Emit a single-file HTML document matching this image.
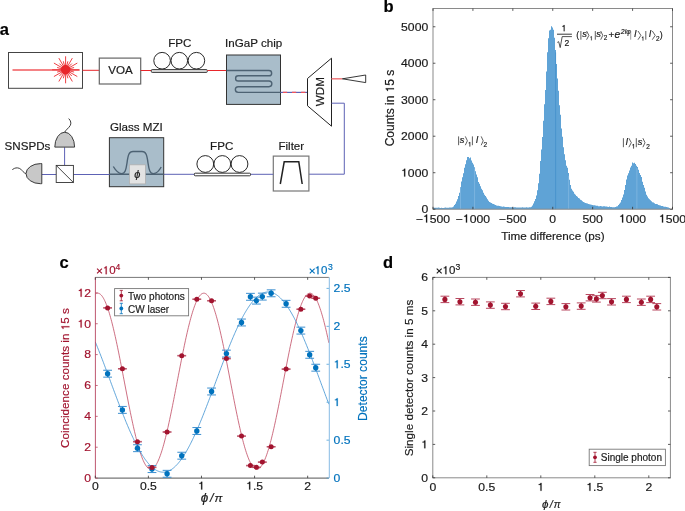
<!DOCTYPE html>
<html><head><meta charset="utf-8"><style>
html,body{margin:0;padding:0;background:#fff;}
svg{display:block;will-change:transform;}
text{font-family:"Liberation Sans",sans-serif;}
</style></head><body>
<svg width="685" height="511" viewBox="0 0 685 511">
<rect width="685" height="511" fill="#fff"/>
<text x="-0.3" y="35" font-size="16.5" font-weight="bold" fill="#000" font-family='"Liberation Sans", sans-serif' stroke="#000" stroke-width="0.18">a</text>
<rect x="8.5" y="52.5" width="74" height="35.8" fill="#fff" stroke="#444" stroke-width="1"/>
<line x1="12.50" y1="70.00" x2="79.70" y2="70.00" stroke="#f0585c" stroke-width="1.3" />
<path d="M65.60,69.80L79.10,69.80M65.60,69.80L77.29,76.55M65.60,69.80L72.35,81.49M65.60,69.80L65.60,83.30M65.60,69.80L58.85,81.49M65.60,69.80L53.91,76.55M65.60,69.80L52.10,69.80M65.60,69.80L53.91,63.05M65.60,69.80L58.85,58.11M65.60,69.80L65.60,56.30M65.60,69.80L72.35,58.11M65.60,69.80L77.29,63.05M65.60,69.80L74.10,72.08M65.60,69.80L71.82,76.02M65.60,69.80L67.88,78.30M65.60,69.80L63.32,78.30M65.60,69.80L59.38,76.02M65.60,69.80L57.10,72.08M65.60,69.80L57.10,67.52M65.60,69.80L59.38,63.58M65.60,69.80L63.32,61.30M65.60,69.80L67.88,61.30M65.60,69.80L71.82,63.58M65.60,69.80L74.10,67.52" stroke="#ec2a30" stroke-width="0.9" fill="none"/>
<circle cx="65.6" cy="69.8" r="4.7" fill="#e8262b"/>
<line x1="82.50" y1="70.30" x2="99.30" y2="70.30" stroke="#e8262b" stroke-width="1" />
<rect x="99.3" y="58.1" width="41.4" height="25.9" fill="#fff" stroke="#666" stroke-width="1.2"/>
<text x="120.50" y="74.10" font-size="11.6" text-anchor="middle" fill="#1a1a1a" font-weight="normal" font-style="normal" font-family='"Liberation Sans", sans-serif'  stroke="#1a1a1a" stroke-width="0.18">VOA</text>
<line x1="140.70" y1="70.50" x2="151.50" y2="70.50" stroke="#e8262b" stroke-width="1" />
<circle cx="162.1" cy="60.7" r="8.3" fill="#fff" stroke="#111" stroke-width="0.9"/>
<circle cx="179.3" cy="60.7" r="8.3" fill="#fff" stroke="#111" stroke-width="0.9"/>
<circle cx="196.4" cy="60.7" r="8.3" fill="#fff" stroke="#111" stroke-width="0.9"/>
<rect x="151.3" y="69.6" width="56" height="2.8" rx="0.9" fill="#e2e2e2" stroke="#222" stroke-width="0.9"/>
<text x="179.80" y="46.80" font-size="11.6" text-anchor="middle" fill="#1a1a1a" font-weight="normal" font-style="normal" font-family='"Liberation Sans", sans-serif'  stroke="#1a1a1a" stroke-width="0.18">FPC</text>
<line x1="207.40" y1="70.50" x2="226.50" y2="70.50" stroke="#e8262b" stroke-width="1" />
<rect x="226.5" y="55" width="54" height="49.4" fill="#a9bdca" stroke="#333" stroke-width="1"/>
<path d="M226.5,70.5 H269 A2.65,2.65 0 0 1 269,75.8 H238.2 A2.6,2.6 0 0 0 238.2,81 H269 A2.85,2.85 0 0 1 269,86.7 H238.2 A2.85,2.85 0 0 0 238.2,92.4 H280.5" fill="none" stroke="#4d6273" stroke-width="1.4"/>
<text x="253.60" y="46.90" font-size="11.6" text-anchor="middle" fill="#1a1a1a" font-weight="normal" font-style="normal" font-family='"Liberation Sans", sans-serif'  stroke="#1a1a1a" stroke-width="0.18">InGaP chip</text>
<line x1="280.50" y1="92.40" x2="307.50" y2="92.40" stroke="#5d62b5" stroke-width="1.2" />
<line x1="280.50" y1="92.40" x2="307.50" y2="92.40" stroke="#f0545a" stroke-width="1.2" stroke-dasharray="4.2 4.9" stroke-dashoffset="6.7"/>
<path d="M307.5,78.5 L331.5,58.2 L331.5,126.2 L307.5,105.8 Z" fill="#fff" stroke="#222" stroke-width="1"/>
<text transform="translate(324.0,91.7) rotate(-90)" x="0" y="0" font-size="11.6" text-anchor="middle" fill="#1a1a1a" font-family='"Liberation Sans", sans-serif' stroke="#1a1a1a" stroke-width="0.18">WDM</text>
<line x1="331.50" y1="78.80" x2="342.40" y2="78.80" stroke="#f0787c" stroke-width="1.5" />
<path d="M342.4,78.8 L365.7,75 L365.7,82.6 Z" fill="#fff" stroke="#222" stroke-width="0.9"/>
<path d="M331.5,103.2 H344.3 V174.2 H308.9" fill="none" stroke="#5d62b5" stroke-width="1"/>
<rect x="273.3" y="156.1" width="35.6" height="34.9" fill="#fff" stroke="#777" stroke-width="1.2"/>
<path d="M280.3,184 L284.2,161.8 L298.8,161.8 L302.2,184" fill="none" stroke="#222" stroke-width="1.5"/>
<text x="291.30" y="150.30" font-size="11.6" text-anchor="middle" fill="#1a1a1a" font-weight="normal" font-style="normal" font-family='"Liberation Sans", sans-serif'  stroke="#1a1a1a" stroke-width="0.18">Filter</text>
<line x1="250.50" y1="174.30" x2="273.30" y2="174.30" stroke="#5d62b5" stroke-width="1" />
<line x1="163.70" y1="174.30" x2="194.30" y2="174.30" stroke="#5d62b5" stroke-width="1" />
<circle cx="205.3" cy="164" r="8.4" fill="#fff" stroke="#111" stroke-width="0.9"/>
<circle cx="222.3" cy="164" r="8.4" fill="#fff" stroke="#111" stroke-width="0.9"/>
<circle cx="239.5" cy="164" r="8.4" fill="#fff" stroke="#111" stroke-width="0.9"/>
<rect x="194.3" y="173.2" width="56.2" height="2.6" rx="0.9" fill="#fff" stroke="#222" stroke-width="0.9"/>
<text x="221.70" y="150.10" font-size="11.6" text-anchor="middle" fill="#1a1a1a" font-weight="normal" font-style="normal" font-family='"Liberation Sans", sans-serif'  stroke="#1a1a1a" stroke-width="0.18">FPC</text>
<rect x="109.4" y="137.7" width="54.3" height="49" fill="#a9bdca" stroke="#333" stroke-width="1"/>
<path d="M109.4,174.2 H163.7" stroke="#4d6273" stroke-width="1.4" fill="none"/>
<path d="M113.3,166.5 C116,171 118,173.5 121.5,173.6 C125,173.6 126,170 127,163 C128,155 129,151.5 133,151.5 H142 C146,151.5 147,155 148,163 C149,170 150,173.6 153.5,173.6 C157,173.5 159,171 161.2,167" stroke="#4d6273" stroke-width="1.4" fill="none"/>
<rect x="129.4" y="164.8" width="16" height="19.1" fill="#e3e3e3" stroke="#b0b0b0" stroke-width="0.8"/>
<text x="137.40" y="178.20" font-size="11" text-anchor="middle" fill="#1a1a1a" font-weight="normal" font-style="italic" font-family='"Liberation Serif", serif'  stroke="#1a1a1a" stroke-width="0.18">&#x3D5;</text>
<text x="136.40" y="131.40" font-size="11.6" text-anchor="middle" fill="#1a1a1a" font-weight="normal" font-style="normal" font-family='"Liberation Sans", sans-serif'  stroke="#1a1a1a" stroke-width="0.18">Glass MZI</text>
<line x1="73.40" y1="174.50" x2="109.40" y2="174.50" stroke="#5d62b5" stroke-width="1" />
<line x1="41.80" y1="174.50" x2="56.20" y2="174.50" stroke="#5d62b5" stroke-width="1" />
<line x1="64.60" y1="147.30" x2="64.60" y2="165.40" stroke="#5d62b5" stroke-width="1" />
<rect x="56.2" y="165.4" width="17.2" height="17.1" fill="#fff" stroke="#333" stroke-width="0.9"/>
<line x1="56.20" y1="165.40" x2="73.40" y2="182.50" stroke="#333" stroke-width="0.9" />
<path d="M54.8,147.1 A9.9,14.9 0 0 1 74.6,147.1 Z" fill="#c8c8c8" stroke="#333" stroke-width="0.95"/>
<path d="M64.7,132.3 C65.6,130 68.6,128.2 70.2,125.6 C71.4,123.4 70.9,120.6 68.7,118.6" fill="none" stroke="#333" stroke-width="0.95"/>
<path d="M41.8,163.6 L40.5,163.6 A14.5,10.05 0 0 0 40.5,183.7 L41.8,183.7 Z" fill="#c8c8c8" stroke="#333" stroke-width="0.95"/>
<path d="M26,173.6 C23.6,172.9 22.4,170.6 20.8,169.2 C19,167.7 16.3,167.5 14.4,168.4 L12.3,169.6" fill="none" stroke="#333" stroke-width="0.95"/>
<text x="4.60" y="149.90" font-size="11.6" text-anchor="start" fill="#1a1a1a" font-weight="normal" font-style="normal" font-family='"Liberation Sans", sans-serif'  stroke="#1a1a1a" stroke-width="0.18">SNSPDs</text>
<path d="M433.00,209.20V207.79H434.00V207.65H435.00V207.74H436.00V207.74H437.00V207.76H438.00V207.61H439.00V207.71H440.00V207.92H441.00V207.79H442.00V207.93H443.00V208.04H444.00V207.74H445.00V207.54H446.00V207.69H447.00V207.80H448.00V207.76H449.00V207.56H450.00V207.61H451.00V207.62H452.00V207.36H453.00V206.48H454.00V205.09H455.00V203.68H456.00V201.53H457.00V199.26H458.00V195.99H459.00V192.84H460.00V187.14H461.00V181.52H462.00V177.17H463.00V173.28H464.00V167.87H465.00V164.21H466.00V160.14H467.00V157.10H468.00V156.96H469.00V158.36H470.00V157.41H471.00V160.43H472.00V162.65H473.00V164.53H474.00V167.27H475.00V171.28H476.00V174.50H477.00V177.33H478.00V181.91H479.00V183.71H480.00V186.23H481.00V188.87H482.00V190.23H483.00V192.77H484.00V194.65H485.00V196.04H486.00V197.62H487.00V199.37H488.00V200.69H489.00V201.92H490.00V202.54H491.00V203.05H492.00V203.73H493.00V203.99H494.00V204.56H495.00V204.94H496.00V205.41H497.00V205.67H498.00V205.69H499.00V205.96H500.00V206.15H501.00V206.44H502.00V206.63H503.00V206.59H504.00V206.70H505.00V206.90H506.00V206.98H507.00V207.04H508.00V207.12H509.00V207.37H510.00V207.25H511.00V207.34H512.00V207.12H513.00V207.39H514.00V207.26H515.00V207.17H516.00V207.41H517.00V207.47H518.00V207.43H519.00V207.45H520.00V207.59H521.00V207.41H522.00V207.28H523.00V207.53H524.00V207.49H525.00V207.58H526.00V207.37H527.00V207.54H528.00V207.49H529.00V207.17H530.00V207.21H531.00V206.66H532.00V205.40H533.00V203.59H534.00V201.15H535.00V199.04H536.00V195.51H537.00V190.26H538.00V183.33H539.00V173.67H540.00V160.93H541.00V149.56H542.00V137.04H543.00V120.81H544.00V104.31H545.00V89.97H546.00V71.47H547.00V52.23H548.00V38.23H549.00V30.51H550.00V29.65H551.00V26.20H552.00V27.59H553.00V29.66H554.00V37.74H555.00V49.95H556.00V63.98H557.00V78.61H558.00V90.76H559.00V105.19H560.00V114.69H561.00V128.45H562.00V136.86H563.00V147.33H564.00V154.13H565.00V160.19H566.00V165.72H567.00V167.77H568.00V173.03H569.00V179.68H570.00V185.04H571.00V188.67H572.00V190.61H573.00V191.73H574.00V193.77H575.00V194.72H576.00V196.12H577.00V196.85H578.00V197.90H579.00V198.39H580.00V199.69H581.00V200.26H582.00V201.21H583.00V202.01H584.00V202.49H585.00V203.01H586.00V203.34H587.00V203.48H588.00V203.91H589.00V204.25H590.00V204.41H591.00V204.78H592.00V205.05H593.00V205.18H594.00V205.27H595.00V205.49H596.00V205.67H597.00V205.86H598.00V206.18H599.00V206.27H600.00V206.04H601.00V206.19H602.00V206.51H603.00V206.26H604.00V206.36H605.00V206.38H606.00V206.62H607.00V206.71H608.00V206.92H609.00V206.55H610.00V207.03H611.00V206.92H612.00V207.28H613.00V207.28H614.00V207.30H615.00V206.92H616.00V206.58H617.00V206.18H618.00V205.04H619.00V203.86H620.00V202.49H621.00V200.10H622.00V197.52H623.00V194.49H624.00V189.90H625.00V185.00H626.00V179.46H627.00V175.51H628.00V173.14H629.00V170.54H630.00V167.56H631.00V165.68H632.00V162.40H633.00V163.13H634.00V162.75H635.00V163.95H636.00V165.78H637.00V167.11H638.00V169.67H639.00V172.96H640.00V175.11H641.00V176.90H642.00V181.66H643.00V184.90H644.00V187.65H645.00V191.57H646.00V194.67H647.00V196.51H648.00V198.24H649.00V199.22H650.00V200.33H651.00V201.19H652.00V202.21H653.00V202.49H654.00V203.31H655.00V203.93H656.00V204.01H657.00V204.34H658.00V204.98H659.00V205.36H660.00V205.62H661.00V205.99H662.00V206.10H663.00V206.44H664.00V206.70H665.00V206.74H666.00V207.11H667.00V207.16H668.00V207.62H669.00V208.07H670.00V209.20H671.00V208.96H672.00V209.20H673.00V209.20Z" fill="#5fa3d6" stroke="none"/>
<line x1="460.54" y1="187.84" x2="460.54" y2="209.20" stroke="#8fc0e6" stroke-width="0.6" />
<line x1="474.59" y1="168.44" x2="474.59" y2="209.20" stroke="#8fc0e6" stroke-width="0.6" />
<line x1="555.62" y1="52.42" x2="555.62" y2="209.20" stroke="#3a88c8" stroke-width="0.6" />
<line x1="568.64" y1="175.84" x2="568.64" y2="209.20" stroke="#8fc0e6" stroke-width="0.6" />
<line x1="636.89" y1="168.14" x2="636.89" y2="209.20" stroke="#8fc0e6" stroke-width="0.6" />
<rect x="433.0" y="8.5" width="239.5" height="200.7" fill="none" stroke="#8a8a8a" stroke-width="1"/>
<line x1="433.00" y1="209.20" x2="433.00" y2="206.80" stroke="#333" stroke-width="0.8" />
<line x1="433.00" y1="8.50" x2="433.00" y2="10.90" stroke="#333" stroke-width="0.8" />
<g transform="translate(433.00,222.50) scale(1.06,1)"><text x="-16.149" y="0" font-size="11.5" text-anchor="start" fill="#1a1a1a" font-family='"Liberation Sans", sans-serif' stroke="#1a1a1a" stroke-width="0.18">&#x2212;&#x2007;500</text><path transform="translate(-9.434,0) scale(0.005615,-0.005615)" d="M505,0L505,1040L215,1040L215,1170C390,1180 490,1250 520,1409L700,1409L700,0Z" fill="#1a1a1a" stroke="#1a1a1a" stroke-width="32.1"/></g>
<line x1="472.92" y1="209.20" x2="472.92" y2="206.80" stroke="#333" stroke-width="0.8" />
<line x1="472.92" y1="8.50" x2="472.92" y2="10.90" stroke="#333" stroke-width="0.8" />
<g transform="translate(472.92,222.50) scale(1.06,1)"><text x="-16.149" y="0" font-size="11.5" text-anchor="start" fill="#1a1a1a" font-family='"Liberation Sans", sans-serif' stroke="#1a1a1a" stroke-width="0.18">&#x2212;&#x2007;000</text><path transform="translate(-9.434,0) scale(0.005615,-0.005615)" d="M505,0L505,1040L215,1040L215,1170C390,1180 490,1250 520,1409L700,1409L700,0Z" fill="#1a1a1a" stroke="#1a1a1a" stroke-width="32.1"/></g>
<line x1="512.83" y1="209.20" x2="512.83" y2="206.80" stroke="#333" stroke-width="0.8" />
<line x1="512.83" y1="8.50" x2="512.83" y2="10.90" stroke="#333" stroke-width="0.8" />
<text transform="translate(512.83,222.50) scale(1.06,1)" x="0" y="0" font-size="11.5" text-anchor="middle" fill="#1a1a1a" font-family='"Liberation Sans", sans-serif' stroke="#1a1a1a" stroke-width="0.18">&#x2212;500</text>
<line x1="552.75" y1="209.20" x2="552.75" y2="206.80" stroke="#333" stroke-width="0.8" />
<line x1="552.75" y1="8.50" x2="552.75" y2="10.90" stroke="#333" stroke-width="0.8" />
<text transform="translate(552.75,222.50) scale(1.06,1)" x="0" y="0" font-size="11.5" text-anchor="middle" fill="#1a1a1a" font-family='"Liberation Sans", sans-serif' stroke="#1a1a1a" stroke-width="0.18">0</text>
<line x1="592.67" y1="209.20" x2="592.67" y2="206.80" stroke="#333" stroke-width="0.8" />
<line x1="592.67" y1="8.50" x2="592.67" y2="10.90" stroke="#333" stroke-width="0.8" />
<text transform="translate(592.67,222.50) scale(1.06,1)" x="0" y="0" font-size="11.5" text-anchor="middle" fill="#1a1a1a" font-family='"Liberation Sans", sans-serif' stroke="#1a1a1a" stroke-width="0.18">500</text>
<line x1="632.58" y1="209.20" x2="632.58" y2="206.80" stroke="#333" stroke-width="0.8" />
<line x1="632.58" y1="8.50" x2="632.58" y2="10.90" stroke="#333" stroke-width="0.8" />
<g transform="translate(632.58,222.50) scale(1.06,1)"><text x="-12.792" y="0" font-size="11.5" text-anchor="start" fill="#1a1a1a" font-family='"Liberation Sans", sans-serif' stroke="#1a1a1a" stroke-width="0.18">&#x2007;000</text><path transform="translate(-12.792,0) scale(0.005615,-0.005615)" d="M505,0L505,1040L215,1040L215,1170C390,1180 490,1250 520,1409L700,1409L700,0Z" fill="#1a1a1a" stroke="#1a1a1a" stroke-width="32.1"/></g>
<line x1="672.50" y1="209.20" x2="672.50" y2="206.80" stroke="#333" stroke-width="0.8" />
<line x1="672.50" y1="8.50" x2="672.50" y2="10.90" stroke="#333" stroke-width="0.8" />
<g transform="translate(672.50,222.50) scale(1.06,1)"><text x="-12.792" y="0" font-size="11.5" text-anchor="start" fill="#1a1a1a" font-family='"Liberation Sans", sans-serif' stroke="#1a1a1a" stroke-width="0.18">&#x2007;500</text><path transform="translate(-12.792,0) scale(0.005615,-0.005615)" d="M505,0L505,1040L215,1040L215,1170C390,1180 490,1250 520,1409L700,1409L700,0Z" fill="#1a1a1a" stroke="#1a1a1a" stroke-width="32.1"/></g>
<line x1="433.00" y1="209.20" x2="435.40" y2="209.20" stroke="#333" stroke-width="0.8" />
<line x1="672.50" y1="209.20" x2="670.10" y2="209.20" stroke="#333" stroke-width="0.8" />
<text transform="translate(428.20,213.10) scale(1.06,1)" x="0" y="0" font-size="11.5" text-anchor="end" fill="#1a1a1a" font-family='"Liberation Sans", sans-serif' stroke="#1a1a1a" stroke-width="0.18">0</text>
<line x1="433.00" y1="172.71" x2="435.40" y2="172.71" stroke="#333" stroke-width="0.8" />
<line x1="672.50" y1="172.71" x2="670.10" y2="172.71" stroke="#333" stroke-width="0.8" />
<g transform="translate(428.20,176.61) scale(1.06,1)"><text x="-25.583" y="0" font-size="11.5" text-anchor="start" fill="#1a1a1a" font-family='"Liberation Sans", sans-serif' stroke="#1a1a1a" stroke-width="0.18">&#x2007;000</text><path transform="translate(-25.583,0) scale(0.005615,-0.005615)" d="M505,0L505,1040L215,1040L215,1170C390,1180 490,1250 520,1409L700,1409L700,0Z" fill="#1a1a1a" stroke="#1a1a1a" stroke-width="32.1"/></g>
<line x1="433.00" y1="136.22" x2="435.40" y2="136.22" stroke="#333" stroke-width="0.8" />
<line x1="672.50" y1="136.22" x2="670.10" y2="136.22" stroke="#333" stroke-width="0.8" />
<text transform="translate(428.20,140.12) scale(1.06,1)" x="0" y="0" font-size="11.5" text-anchor="end" fill="#1a1a1a" font-family='"Liberation Sans", sans-serif' stroke="#1a1a1a" stroke-width="0.18">2000</text>
<line x1="433.00" y1="99.73" x2="435.40" y2="99.73" stroke="#333" stroke-width="0.8" />
<line x1="672.50" y1="99.73" x2="670.10" y2="99.73" stroke="#333" stroke-width="0.8" />
<text transform="translate(428.20,103.63) scale(1.06,1)" x="0" y="0" font-size="11.5" text-anchor="end" fill="#1a1a1a" font-family='"Liberation Sans", sans-serif' stroke="#1a1a1a" stroke-width="0.18">3000</text>
<line x1="433.00" y1="63.24" x2="435.40" y2="63.24" stroke="#333" stroke-width="0.8" />
<line x1="672.50" y1="63.24" x2="670.10" y2="63.24" stroke="#333" stroke-width="0.8" />
<text transform="translate(428.20,67.14) scale(1.06,1)" x="0" y="0" font-size="11.5" text-anchor="end" fill="#1a1a1a" font-family='"Liberation Sans", sans-serif' stroke="#1a1a1a" stroke-width="0.18">4000</text>
<line x1="433.00" y1="26.75" x2="435.40" y2="26.75" stroke="#333" stroke-width="0.8" />
<line x1="672.50" y1="26.75" x2="670.10" y2="26.75" stroke="#333" stroke-width="0.8" />
<text transform="translate(428.20,30.65) scale(1.06,1)" x="0" y="0" font-size="11.5" text-anchor="end" fill="#1a1a1a" font-family='"Liberation Sans", sans-serif' stroke="#1a1a1a" stroke-width="0.18">5000</text>
<text x="552.90" y="240.30" font-size="11.7" text-anchor="middle" fill="#1a1a1a" font-weight="normal" font-style="normal" font-family='"Liberation Sans", sans-serif'  stroke="#1a1a1a" stroke-width="0.18">Time difference (ps)</text>
<g transform="translate(394.00,108.00) rotate(-90)"><text x="-38.355" y="0" font-size="12" style="font-kerning:none" fill="#1a1a1a" font-family='"Liberation Sans", sans-serif' stroke="#1a1a1a" stroke-width="0.18">Counts in  5 s</text><path transform="translate(15.674,0) scale(0.005859,-0.005859)" d="M505,0L505,1040L215,1040L215,1170C390,1180 490,1250 520,1409L700,1409L700,0Z" fill="#1a1a1a" stroke="#1a1a1a" stroke-width="30.7"/></g>
<text x="383.6" y="11.7" font-size="16.5" font-weight="bold" fill="#000" font-family='"Liberation Sans", sans-serif' stroke="#000" stroke-width="0.18">b</text>
<line x1="458.60" y1="136.40" x2="458.60" y2="145.20" stroke="#1a1a1a" stroke-width="0.7"/>
<text x="462.00" y="143.10" font-size="9.3" font-style="italic" text-anchor="middle" fill="#1a1a1a" font-family='"Liberation Sans", sans-serif' stroke="#1a1a1a" stroke-width="0.18">s</text>
<path d="M465.30,136.40 L467.40,140.80 L465.30,145.20" fill="none" stroke="#1a1a1a" stroke-width="0.7"/>
<path transform="translate(468.020,146.40) scale(0.003125,-0.003125)" d="M505,0L505,1040L215,1040L215,1170C390,1180 490,1250 520,1409L700,1409L700,0Z" fill="#1a1a1a" stroke="#1a1a1a" stroke-width="57.6"/>
<line x1="472.40" y1="136.40" x2="472.40" y2="145.20" stroke="#1a1a1a" stroke-width="0.7"/>
<text x="477.00" y="143.10" font-size="9.3" font-style="italic" text-anchor="middle" fill="#1a1a1a" font-family='"Liberation Sans", sans-serif' stroke="#1a1a1a" stroke-width="0.18">l</text>
<path d="M481.20,136.40 L483.20,140.80 L481.20,145.20" fill="none" stroke="#1a1a1a" stroke-width="0.7"/>
<text x="485.40" y="146.50" font-size="6.4" font-style="normal" text-anchor="middle" fill="#1a1a1a" font-family='"Liberation Sans", sans-serif' stroke="#1a1a1a" stroke-width="0.18">2</text>
<line x1="623.40" y1="138.20" x2="623.40" y2="147.20" stroke="#1a1a1a" stroke-width="0.7"/>
<text x="626.90" y="145.00" font-size="9.3" font-style="italic" text-anchor="middle" fill="#1a1a1a" font-family='"Liberation Sans", sans-serif' stroke="#1a1a1a" stroke-width="0.18">l</text>
<path d="M628.90,138.20 L631.30,142.70 L628.90,147.20" fill="none" stroke="#1a1a1a" stroke-width="0.7"/>
<path transform="translate(631.720,148.50) scale(0.003125,-0.003125)" d="M505,0L505,1040L215,1040L215,1170C390,1180 490,1250 520,1409L700,1409L700,0Z" fill="#1a1a1a" stroke="#1a1a1a" stroke-width="57.6"/>
<line x1="636.30" y1="138.20" x2="636.30" y2="147.20" stroke="#1a1a1a" stroke-width="0.7"/>
<text x="640.10" y="145.00" font-size="9.3" font-style="italic" text-anchor="middle" fill="#1a1a1a" font-family='"Liberation Sans", sans-serif' stroke="#1a1a1a" stroke-width="0.18">s</text>
<path d="M642.90,138.20 L645.00,142.70 L642.90,147.20" fill="none" stroke="#1a1a1a" stroke-width="0.7"/>
<text x="648.00" y="148.80" font-size="6.4" font-style="normal" text-anchor="middle" fill="#1a1a1a" font-family='"Liberation Sans", sans-serif' stroke="#1a1a1a" stroke-width="0.18">2</text>
<path transform="translate(561.497,31.20) scale(0.004395,-0.004395)" d="M505,0L505,1040L215,1040L215,1170C390,1180 490,1250 520,1409L700,1409L700,0Z" fill="#1a1a1a" stroke="#1a1a1a" stroke-width="41.0"/>
<line x1="557.00" y1="34.20" x2="571.90" y2="34.20" stroke="#222" stroke-width="0.9" />
<path d="M557.3,42.4 L558.7,41.7 L560.2,47.6 L562.2,36.6 H571.9" fill="none" stroke="#1a1a1a" stroke-width="0.75"/>
<text x="566.80" y="46.30" font-size="8.6" text-anchor="middle" fill="#1a1a1a" font-weight="normal" font-style="normal" font-family='"Liberation Sans", sans-serif'  stroke="#1a1a1a" stroke-width="0.18">2</text>
<text x="577.70" y="38.30" font-size="8.8" font-style="normal" text-anchor="middle" fill="#1a1a1a" font-family='"Liberation Sans", sans-serif' stroke="#1a1a1a" stroke-width="0.18">(</text>
<line x1="580.90" y1="31.00" x2="580.90" y2="39.70" stroke="#1a1a1a" stroke-width="0.7"/>
<text x="584.50" y="37.30" font-size="9.3" font-style="italic" text-anchor="middle" fill="#1a1a1a" font-family='"Liberation Sans", sans-serif' stroke="#1a1a1a" stroke-width="0.18">s</text>
<path d="M586.60,31.00 L588.90,35.35 L586.60,39.70" fill="none" stroke="#1a1a1a" stroke-width="0.7"/>
<path transform="translate(589.687,40.30) scale(0.002832,-0.002832)" d="M505,0L505,1040L215,1040L215,1170C390,1180 490,1250 520,1409L700,1409L700,0Z" fill="#1a1a1a" stroke="#1a1a1a" stroke-width="63.6"/>
<line x1="595.30" y1="31.00" x2="595.30" y2="39.70" stroke="#1a1a1a" stroke-width="0.7"/>
<text x="598.60" y="37.30" font-size="9.3" font-style="italic" text-anchor="middle" fill="#1a1a1a" font-family='"Liberation Sans", sans-serif' stroke="#1a1a1a" stroke-width="0.18">s</text>
<path d="M600.70,31.00 L602.80,35.35 L600.70,39.70" fill="none" stroke="#1a1a1a" stroke-width="0.7"/>
<text x="605.50" y="40.30" font-size="6.4" font-style="normal" text-anchor="middle" fill="#1a1a1a" font-family='"Liberation Sans", sans-serif' stroke="#1a1a1a" stroke-width="0.18">2</text>
<text x="611.30" y="37.90" font-size="9.8" font-style="normal" text-anchor="middle" fill="#1a1a1a" font-family='"Liberation Sans", sans-serif' stroke="#1a1a1a" stroke-width="0.18">+</text>
<text x="617.30" y="37.90" font-size="10.2" font-style="italic" text-anchor="middle" fill="#1a1a1a" font-family='"Liberation Sans", sans-serif' stroke="#1a1a1a" stroke-width="0.18">e</text>
<text x="625.80" y="34.00" font-size="6.9" font-style="italic" text-anchor="middle" fill="#1a1a1a" font-family='"Liberation Sans", sans-serif' stroke="#1a1a1a" stroke-width="0.18">2i&#x3C6;</text>
<line x1="630.70" y1="31.00" x2="630.70" y2="39.70" stroke="#777" stroke-width="0.7"/>
<text x="635.40" y="37.30" font-size="9.3" font-style="italic" text-anchor="middle" fill="#1a1a1a" font-family='"Liberation Sans", sans-serif' stroke="#1a1a1a" stroke-width="0.18">l</text>
<path d="M638.00,31.00 L640.90,35.35 L638.00,39.70" fill="none" stroke="#1a1a1a" stroke-width="0.7"/>
<path transform="translate(641.287,40.60) scale(0.002832,-0.002832)" d="M505,0L505,1040L215,1040L215,1170C390,1180 490,1250 520,1409L700,1409L700,0Z" fill="#1a1a1a" stroke="#1a1a1a" stroke-width="63.6"/>
<line x1="645.80" y1="31.00" x2="645.80" y2="39.70" stroke="#1a1a1a" stroke-width="0.7"/>
<text x="650.10" y="37.30" font-size="9.3" font-style="italic" text-anchor="middle" fill="#1a1a1a" font-family='"Liberation Sans", sans-serif' stroke="#1a1a1a" stroke-width="0.18">l</text>
<path d="M652.30,31.00 L655.20,35.35 L652.30,39.70" fill="none" stroke="#1a1a1a" stroke-width="0.7"/>
<text x="657.80" y="40.60" font-size="6.4" font-style="normal" text-anchor="middle" fill="#1a1a1a" font-family='"Liberation Sans", sans-serif' stroke="#1a1a1a" stroke-width="0.18">2</text>
<text x="661.30" y="38.30" font-size="8.8" font-style="normal" text-anchor="middle" fill="#1a1a1a" font-family='"Liberation Sans", sans-serif' stroke="#1a1a1a" stroke-width="0.18">)</text>
<clipPath id="cclip"><rect x="95.3" y="277.4" width="233.59999999999997" height="200.70000000000005"/></clipPath>
<g clip-path="url(#cclip)"><path d="M95.30,294.07 L95.89,293.69 L96.47,293.41 L97.06,293.25 L97.64,293.18 L98.23,293.22 L98.81,293.37 L99.40,293.62 L99.98,293.98 L100.57,294.44 L101.15,295.01 L101.74,295.68 L102.33,296.45 L102.91,297.33 L103.50,298.30 L104.08,299.38 L104.67,300.55 L105.25,301.82 L105.84,303.19 L106.42,304.65 L107.01,306.20 L107.59,307.84 L108.18,309.57 L108.77,311.38 L109.35,313.28 L109.94,315.26 L110.52,317.32 L111.11,319.46 L111.69,321.67 L112.28,323.95 L112.86,326.30 L113.45,328.72 L114.03,331.20 L114.62,333.74 L115.21,336.33 L115.79,338.98 L116.38,341.68 L116.96,344.43 L117.55,347.22 L118.13,350.06 L118.72,352.93 L119.30,355.83 L119.89,358.77 L120.47,361.73 L121.06,364.71 L121.65,367.72 L122.23,370.74 L122.82,373.77 L123.40,376.81 L123.99,379.86 L124.57,382.91 L125.16,385.96 L125.74,389.00 L126.33,392.03 L126.92,395.05 L127.50,398.05 L128.09,401.03 L128.67,403.99 L129.26,406.92 L129.84,409.82 L130.43,412.69 L131.01,415.51 L131.60,418.30 L132.18,421.04 L132.77,423.73 L133.36,426.37 L133.94,428.96 L134.53,431.49 L135.11,433.96 L135.70,436.37 L136.28,438.71 L136.87,440.98 L137.45,443.18 L138.04,445.30 L138.62,447.35 L139.21,449.32 L139.80,451.20 L140.38,453.01 L140.97,454.72 L141.55,456.35 L142.14,457.89 L142.72,459.33 L143.31,460.68 L143.89,461.94 L144.48,463.09 L145.06,464.15 L145.65,465.11 L146.24,465.97 L146.82,466.73 L147.41,467.39 L147.99,467.94 L148.58,468.38 L149.16,468.72 L149.75,468.96 L150.33,469.09 L150.92,469.12 L151.50,469.04 L152.09,468.85 L152.68,468.56 L153.26,468.16 L153.85,467.66 L154.43,467.06 L155.02,466.35 L155.60,465.54 L156.19,464.63 L156.77,463.62 L157.36,462.51 L157.94,461.30 L158.53,459.99 L159.12,458.59 L159.70,457.10 L160.29,455.52 L160.87,453.84 L161.46,452.08 L162.04,450.24 L162.63,448.31 L163.21,446.30 L163.80,444.21 L164.38,442.05 L164.97,439.81 L165.56,437.50 L166.14,435.13 L166.73,432.69 L167.31,430.19 L167.90,427.63 L168.48,425.01 L169.07,422.34 L169.65,419.62 L170.24,416.86 L170.82,414.05 L171.41,411.21 L172.00,408.32 L172.58,405.41 L173.17,402.46 L173.75,399.49 L174.34,396.50 L174.92,393.49 L175.51,390.46 L176.09,387.42 L176.68,384.38 L177.26,381.33 L177.85,378.28 L178.44,375.24 L179.02,372.20 L179.61,369.17 L180.19,366.16 L180.78,363.16 L181.36,360.19 L181.95,357.24 L182.53,354.32 L183.12,351.44 L183.71,348.58 L184.29,345.77 L184.88,343.00 L185.46,340.28 L186.05,337.60 L186.63,334.98 L187.22,332.41 L187.80,329.90 L188.39,327.46 L188.97,325.07 L189.56,322.76 L190.15,320.51 L190.73,318.34 L191.32,316.25 L191.90,314.23 L192.49,312.29 L193.07,310.43 L193.66,308.66 L194.24,306.98 L194.83,305.38 L195.41,303.88 L196.00,302.47 L196.59,301.15 L197.17,299.93 L197.76,298.81 L198.34,297.79 L198.93,296.86 L199.51,296.04 L200.10,295.32 L200.68,294.70 L201.27,294.19 L201.85,293.78 L202.44,293.48 L203.03,293.28 L203.61,293.19 L204.20,293.20 L204.78,293.32 L205.37,293.54 L205.95,293.87 L206.54,294.31 L207.12,294.85 L207.71,295.49 L208.29,296.23 L208.88,297.08 L209.47,298.03 L210.05,299.08 L210.64,300.22 L211.22,301.47 L211.81,302.81 L212.39,304.24 L212.98,305.77 L213.56,307.38 L214.15,309.09 L214.73,310.88 L215.32,312.76 L215.91,314.71 L216.49,316.75 L217.08,318.87 L217.66,321.06 L218.25,323.32 L218.83,325.65 L219.42,328.05 L220.00,330.51 L220.59,333.04 L221.17,335.62 L221.76,338.25 L222.35,340.94 L222.93,343.68 L223.52,346.46 L224.10,349.28 L224.69,352.14 L225.27,355.04 L225.86,357.96 L226.44,360.92 L227.03,363.90 L227.61,366.90 L228.20,369.91 L228.79,372.94 L229.37,375.98 L229.96,379.03 L230.54,382.08 L231.13,385.13 L231.71,388.17 L232.30,391.20 L232.88,394.23 L233.47,397.23 L234.05,400.22 L234.64,403.19 L235.23,406.12 L235.81,409.03 L236.40,411.91 L236.98,414.74 L237.57,417.54 L238.15,420.30 L238.74,423.00 L239.32,425.66 L239.91,428.26 L240.49,430.81 L241.08,433.29 L241.67,435.72 L242.25,438.08 L242.84,440.37 L243.42,442.59 L244.01,444.73 L244.59,446.80 L245.18,448.79 L245.76,450.70 L246.35,452.52 L246.94,454.26 L247.52,455.91 L248.11,457.48 L248.69,458.95 L249.28,460.32 L249.86,461.60 L250.45,462.79 L251.03,463.87 L251.62,464.86 L252.20,465.75 L252.79,466.53 L253.38,467.22 L253.96,467.80 L254.55,468.27 L255.13,468.64 L255.72,468.91 L256.30,469.07 L256.89,469.12 L257.47,469.07 L258.06,468.91 L258.64,468.65 L259.23,468.28 L259.82,467.81 L260.40,467.23 L260.99,466.55 L261.57,465.77 L262.16,464.89 L262.74,463.90 L263.33,462.82 L263.91,461.64 L264.50,460.36 L265.08,458.99 L265.67,457.52 L266.26,455.96 L266.84,454.31 L267.43,452.57 L268.01,450.75 L268.60,448.84 L269.18,446.86 L269.77,444.79 L270.35,442.65 L270.94,440.43 L271.52,438.14 L272.11,435.78 L272.70,433.36 L273.28,430.88 L273.87,428.33 L274.45,425.73 L275.04,423.08 L275.62,420.37 L276.21,417.62 L276.79,414.82 L277.38,411.99 L277.96,409.11 L278.55,406.21 L279.14,403.27 L279.72,400.30 L280.31,397.32 L280.89,394.31 L281.48,391.29 L282.06,388.25 L282.65,385.21 L283.23,382.16 L283.82,379.11 L284.40,376.07 L284.99,373.03 L285.58,370.00 L286.16,366.98 L286.75,363.98 L287.33,361.00 L287.92,358.04 L288.50,355.12 L289.09,352.22 L289.67,349.36 L290.26,346.54 L290.84,343.75 L291.43,341.02 L292.02,338.33 L292.60,335.69 L293.19,333.11 L293.77,330.58 L294.36,328.12 L294.94,325.72 L295.53,323.38 L296.11,321.12 L296.70,318.93 L297.28,316.81 L297.87,314.77 L298.46,312.81 L299.04,310.93 L299.63,309.14 L300.21,307.43 L300.80,305.81 L301.38,304.28 L301.97,302.85 L302.55,301.50 L303.14,300.26 L303.73,299.11 L304.31,298.06 L304.90,297.11 L305.48,296.26 L306.07,295.51 L306.65,294.86 L307.24,294.32 L307.82,293.88 L308.41,293.55 L308.99,293.32 L309.58,293.20 L310.17,293.19 L310.75,293.28 L311.34,293.47 L311.92,293.77 L312.51,294.18 L313.09,294.69 L313.68,295.30 L314.26,296.02 L314.85,296.84 L315.43,297.76 L316.02,298.78 L316.61,299.90 L317.19,301.12 L317.78,302.43 L318.36,303.84 L318.95,305.34 L319.53,306.93 L320.12,308.61 L320.70,310.38 L321.29,312.24 L321.87,314.17 L322.46,316.19 L323.05,318.28 L323.63,320.45 L324.22,322.70 L324.80,325.01 L325.39,327.39 L325.97,329.84 L326.56,332.34 L327.14,334.91 L327.73,337.53 L328.31,340.20 L328.90,342.93" fill="none" stroke="#c04a62" stroke-width="0.8"/><path d="M95.30,341.90 L95.89,343.32 L96.47,344.75 L97.06,346.19 L97.64,347.65 L98.23,349.11 L98.81,350.59 L99.40,352.07 L99.98,353.56 L100.57,355.07 L101.15,356.58 L101.74,358.10 L102.33,359.62 L102.91,361.16 L103.50,362.69 L104.08,364.24 L104.67,365.79 L105.25,367.35 L105.84,368.91 L106.42,370.47 L107.01,372.04 L107.59,373.61 L108.18,375.18 L108.77,376.76 L109.35,378.34 L109.94,379.91 L110.52,381.49 L111.11,383.07 L111.69,384.65 L112.28,386.23 L112.86,387.81 L113.45,389.38 L114.03,390.95 L114.62,392.52 L115.21,394.09 L115.79,395.65 L116.38,397.21 L116.96,398.77 L117.55,400.32 L118.13,401.86 L118.72,403.40 L119.30,404.93 L119.89,406.45 L120.47,407.97 L121.06,409.48 L121.65,410.98 L122.23,412.47 L122.82,413.95 L123.40,415.43 L123.99,416.89 L124.57,418.34 L125.16,419.78 L125.74,421.21 L126.33,422.63 L126.92,424.03 L127.50,425.42 L128.09,426.80 L128.67,428.16 L129.26,429.51 L129.84,430.85 L130.43,432.17 L131.01,433.47 L131.60,434.76 L132.18,436.04 L132.77,437.29 L133.36,438.53 L133.94,439.76 L134.53,440.96 L135.11,442.15 L135.70,443.32 L136.28,444.46 L136.87,445.59 L137.45,446.71 L138.04,447.80 L138.62,448.87 L139.21,449.92 L139.80,450.95 L140.38,451.95 L140.97,452.94 L141.55,453.91 L142.14,454.85 L142.72,455.77 L143.31,456.67 L143.89,457.54 L144.48,458.39 L145.06,459.22 L145.65,460.03 L146.24,460.81 L146.82,461.56 L147.41,462.30 L147.99,463.00 L148.58,463.69 L149.16,464.34 L149.75,464.97 L150.33,465.58 L150.92,466.16 L151.50,466.72 L152.09,467.25 L152.68,467.75 L153.26,468.23 L153.85,468.68 L154.43,469.10 L155.02,469.50 L155.60,469.87 L156.19,470.21 L156.77,470.53 L157.36,470.82 L157.94,471.08 L158.53,471.31 L159.12,471.52 L159.70,471.70 L160.29,471.85 L160.87,471.98 L161.46,472.07 L162.04,472.14 L162.63,472.18 L163.21,472.20 L163.80,472.18 L164.38,472.14 L164.97,472.07 L165.56,471.97 L166.14,471.85 L166.73,471.70 L167.31,471.52 L167.90,471.31 L168.48,471.08 L169.07,470.81 L169.65,470.53 L170.24,470.21 L170.82,469.87 L171.41,469.50 L172.00,469.10 L172.58,468.67 L173.17,468.22 L173.75,467.75 L174.34,467.24 L174.92,466.71 L175.51,466.16 L176.09,465.58 L176.68,464.97 L177.26,464.34 L177.85,463.68 L178.44,463.00 L179.02,462.29 L179.61,461.56 L180.19,460.80 L180.78,460.02 L181.36,459.22 L181.95,458.39 L182.53,457.54 L183.12,456.66 L183.71,455.76 L184.29,454.84 L184.88,453.90 L185.46,452.93 L186.05,451.95 L186.63,450.94 L187.22,449.91 L187.80,448.86 L188.39,447.79 L188.97,446.70 L189.56,445.59 L190.15,444.46 L190.73,443.31 L191.32,442.14 L191.90,440.95 L192.49,439.75 L193.07,438.53 L193.66,437.29 L194.24,436.03 L194.83,434.76 L195.41,433.47 L196.00,432.16 L196.59,430.84 L197.17,429.50 L197.76,428.15 L198.34,426.79 L198.93,425.41 L199.51,424.02 L200.10,422.62 L200.68,421.20 L201.27,419.77 L201.85,418.33 L202.44,416.88 L203.03,415.42 L203.61,413.94 L204.20,412.46 L204.78,410.97 L205.37,409.47 L205.95,407.96 L206.54,406.45 L207.12,404.92 L207.71,403.39 L208.29,401.85 L208.88,400.31 L209.47,398.76 L210.05,397.20 L210.64,395.65 L211.22,394.08 L211.81,392.51 L212.39,390.94 L212.98,389.37 L213.56,387.80 L214.15,386.22 L214.73,384.64 L215.32,383.06 L215.91,381.48 L216.49,379.90 L217.08,378.33 L217.66,376.75 L218.25,375.17 L218.83,373.60 L219.42,372.03 L220.00,370.46 L220.59,368.90 L221.17,367.34 L221.76,365.78 L222.35,364.23 L222.93,362.68 L223.52,361.15 L224.10,359.61 L224.69,358.09 L225.27,356.57 L225.86,355.06 L226.44,353.56 L227.03,352.06 L227.61,350.58 L228.20,349.10 L228.79,347.64 L229.37,346.18 L229.96,344.74 L230.54,343.31 L231.13,341.89 L231.71,340.48 L232.30,339.09 L232.88,337.71 L233.47,336.34 L234.05,334.99 L234.64,333.65 L235.23,332.32 L235.81,331.02 L236.40,329.72 L236.98,328.45 L237.57,327.19 L238.15,325.94 L238.74,324.71 L239.32,323.51 L239.91,322.32 L240.49,321.14 L241.08,319.99 L241.67,318.85 L242.25,317.74 L242.84,316.64 L243.42,315.57 L244.01,314.51 L244.59,313.48 L245.18,312.47 L245.76,311.48 L246.35,310.51 L246.94,309.56 L247.52,308.63 L248.11,307.73 L248.69,306.85 L249.28,305.99 L249.86,305.16 L250.45,304.35 L251.03,303.56 L251.62,302.80 L252.20,302.06 L252.79,301.35 L253.38,300.66 L253.96,300.00 L254.55,299.36 L255.13,298.75 L255.72,298.16 L256.30,297.60 L256.89,297.06 L257.47,296.55 L258.06,296.07 L258.64,295.61 L259.23,295.18 L259.82,294.78 L260.40,294.40 L260.99,294.05 L261.57,293.73 L262.16,293.44 L262.74,293.17 L263.33,292.93 L263.91,292.72 L264.50,292.53 L265.08,292.37 L265.67,292.24 L266.26,292.14 L266.84,292.06 L267.43,292.01 L268.01,291.99 L268.60,292.00 L269.18,292.04 L269.77,292.10 L270.35,292.19 L270.94,292.31 L271.52,292.45 L272.11,292.63 L272.70,292.83 L273.28,293.06 L273.87,293.31 L274.45,293.59 L275.04,293.90 L275.62,294.24 L276.21,294.61 L276.79,295.00 L277.38,295.41 L277.96,295.86 L278.55,296.33 L279.14,296.83 L279.72,297.35 L280.31,297.90 L280.89,298.47 L281.48,299.08 L282.06,299.70 L282.65,300.35 L283.23,301.03 L283.82,301.73 L284.40,302.46 L284.99,303.21 L285.58,303.99 L286.16,304.78 L286.75,305.61 L287.33,306.45 L287.92,307.32 L288.50,308.22 L289.09,309.13 L289.67,310.07 L290.26,311.03 L290.84,312.01 L291.43,313.01 L292.02,314.04 L292.60,315.08 L293.19,316.15 L293.77,317.24 L294.36,318.34 L294.94,319.47 L295.53,320.61 L296.11,321.78 L296.70,322.96 L297.28,324.16 L297.87,325.38 L298.46,326.61 L299.04,327.87 L299.63,329.14 L300.21,330.42 L300.80,331.72 L301.38,333.04 L301.97,334.37 L302.55,335.72 L303.14,337.08 L303.73,338.46 L304.31,339.84 L304.90,341.25 L305.48,342.66 L306.07,344.09 L306.65,345.52 L307.24,346.97 L307.82,348.43 L308.41,349.90 L308.99,351.38 L309.58,352.87 L310.17,354.37 L310.75,355.88 L311.34,357.39 L311.92,358.91 L312.51,360.44 L313.09,361.98 L313.68,363.52 L314.26,365.07 L314.85,366.62 L315.43,368.18 L316.02,369.74 L316.61,371.31 L317.19,372.88 L317.78,374.45 L318.36,376.03 L318.95,377.60 L319.53,379.18 L320.12,380.76 L320.70,382.34 L321.29,383.92 L321.87,385.50 L322.46,387.08 L323.05,388.65 L323.63,390.23 L324.22,391.80 L324.80,393.37 L325.39,394.93 L325.97,396.49 L326.56,398.05 L327.14,399.60 L327.73,401.15 L328.31,402.69 L328.90,404.22" fill="none" stroke="#3a8fd0" stroke-width="0.8"/></g>
<line x1="95.30" y1="277.40" x2="328.90" y2="277.40" stroke="#777" stroke-width="1" />
<line x1="95.30" y1="478.10" x2="328.90" y2="478.10" stroke="#555" stroke-width="1" />
<line x1="95.40" y1="277.20" x2="95.40" y2="478.10" stroke="#b23a56" stroke-width="0.85" />
<line x1="329.30" y1="277.20" x2="329.30" y2="478.10" stroke="#86bbe4" stroke-width="1" />
<line x1="95.30" y1="478.10" x2="95.30" y2="475.70" stroke="#333" stroke-width="0.8" />
<line x1="95.30" y1="277.40" x2="95.30" y2="279.80" stroke="#333" stroke-width="0.8" />
<text transform="translate(95.30,489.60) scale(1.06,1)" x="0" y="0" font-size="11.5" text-anchor="middle" fill="#1a1a1a" font-family='"Liberation Sans", sans-serif' stroke="#1a1a1a" stroke-width="0.18">0</text>
<line x1="148.39" y1="478.10" x2="148.39" y2="475.70" stroke="#333" stroke-width="0.8" />
<line x1="148.39" y1="277.40" x2="148.39" y2="279.80" stroke="#333" stroke-width="0.8" />
<text transform="translate(148.39,489.60) scale(1.06,1)" x="0" y="0" font-size="11.5" text-anchor="middle" fill="#1a1a1a" font-family='"Liberation Sans", sans-serif' stroke="#1a1a1a" stroke-width="0.18">0.5</text>
<line x1="201.48" y1="478.10" x2="201.48" y2="475.70" stroke="#333" stroke-width="0.8" />
<line x1="201.48" y1="277.40" x2="201.48" y2="279.80" stroke="#333" stroke-width="0.8" />
<g transform="translate(201.48,489.60) scale(1.06,1)"><text x="-3.198" y="0" font-size="11.5" text-anchor="start" fill="#1a1a1a" font-family='"Liberation Sans", sans-serif' stroke="#1a1a1a" stroke-width="0.18">&#x2007;</text><path transform="translate(-3.198,0) scale(0.005615,-0.005615)" d="M505,0L505,1040L215,1040L215,1170C390,1180 490,1250 520,1409L700,1409L700,0Z" fill="#1a1a1a" stroke="#1a1a1a" stroke-width="32.1"/></g>
<line x1="254.57" y1="478.10" x2="254.57" y2="475.70" stroke="#333" stroke-width="0.8" />
<line x1="254.57" y1="277.40" x2="254.57" y2="279.80" stroke="#333" stroke-width="0.8" />
<g transform="translate(254.57,489.60) scale(1.06,1)"><text x="-7.993" y="0" font-size="11.5" text-anchor="start" fill="#1a1a1a" font-family='"Liberation Sans", sans-serif' stroke="#1a1a1a" stroke-width="0.18">&#x2007;.5</text><path transform="translate(-7.993,0) scale(0.005615,-0.005615)" d="M505,0L505,1040L215,1040L215,1170C390,1180 490,1250 520,1409L700,1409L700,0Z" fill="#1a1a1a" stroke="#1a1a1a" stroke-width="32.1"/></g>
<line x1="307.66" y1="478.10" x2="307.66" y2="475.70" stroke="#333" stroke-width="0.8" />
<line x1="307.66" y1="277.40" x2="307.66" y2="279.80" stroke="#333" stroke-width="0.8" />
<text transform="translate(307.66,489.60) scale(1.06,1)" x="0" y="0" font-size="11.5" text-anchor="middle" fill="#1a1a1a" font-family='"Liberation Sans", sans-serif' stroke="#1a1a1a" stroke-width="0.18">2</text>
<line x1="95.30" y1="478.10" x2="97.70" y2="478.10" stroke="#b8475f" stroke-width="0.8" />
<text transform="translate(91.10,482.00) scale(1.06,1)" x="0" y="0" font-size="11.5" text-anchor="end" fill="#a2142f" font-family='"Liberation Sans", sans-serif' stroke="#a2142f" stroke-width="0.18">0</text>
<line x1="95.30" y1="447.22" x2="97.70" y2="447.22" stroke="#b8475f" stroke-width="0.8" />
<text transform="translate(91.10,451.12) scale(1.06,1)" x="0" y="0" font-size="11.5" text-anchor="end" fill="#a2142f" font-family='"Liberation Sans", sans-serif' stroke="#a2142f" stroke-width="0.18">2</text>
<line x1="95.30" y1="416.35" x2="97.70" y2="416.35" stroke="#b8475f" stroke-width="0.8" />
<text transform="translate(91.10,420.25) scale(1.06,1)" x="0" y="0" font-size="11.5" text-anchor="end" fill="#a2142f" font-family='"Liberation Sans", sans-serif' stroke="#a2142f" stroke-width="0.18">4</text>
<line x1="95.30" y1="385.47" x2="97.70" y2="385.47" stroke="#b8475f" stroke-width="0.8" />
<text transform="translate(91.10,389.37) scale(1.06,1)" x="0" y="0" font-size="11.5" text-anchor="end" fill="#a2142f" font-family='"Liberation Sans", sans-serif' stroke="#a2142f" stroke-width="0.18">6</text>
<line x1="95.30" y1="354.59" x2="97.70" y2="354.59" stroke="#b8475f" stroke-width="0.8" />
<text transform="translate(91.10,358.49) scale(1.06,1)" x="0" y="0" font-size="11.5" text-anchor="end" fill="#a2142f" font-family='"Liberation Sans", sans-serif' stroke="#a2142f" stroke-width="0.18">8</text>
<line x1="95.30" y1="323.72" x2="97.70" y2="323.72" stroke="#b8475f" stroke-width="0.8" />
<g transform="translate(91.10,327.62) scale(1.06,1)"><text x="-12.792" y="0" font-size="11.5" text-anchor="start" fill="#a2142f" font-family='"Liberation Sans", sans-serif' stroke="#a2142f" stroke-width="0.18">&#x2007;0</text><path transform="translate(-12.792,0) scale(0.005615,-0.005615)" d="M505,0L505,1040L215,1040L215,1170C390,1180 490,1250 520,1409L700,1409L700,0Z" fill="#a2142f" stroke="#a2142f" stroke-width="32.1"/></g>
<line x1="95.30" y1="292.84" x2="97.70" y2="292.84" stroke="#b8475f" stroke-width="0.8" />
<g transform="translate(91.10,296.74) scale(1.06,1)"><text x="-12.792" y="0" font-size="11.5" text-anchor="start" fill="#a2142f" font-family='"Liberation Sans", sans-serif' stroke="#a2142f" stroke-width="0.18">&#x2007;2</text><path transform="translate(-12.792,0) scale(0.005615,-0.005615)" d="M505,0L505,1040L215,1040L215,1170C390,1180 490,1250 520,1409L700,1409L700,0Z" fill="#a2142f" stroke="#a2142f" stroke-width="32.1"/></g>
<line x1="328.90" y1="478.10" x2="326.50" y2="478.10" stroke="#4a9fd8" stroke-width="0.8" />
<text transform="translate(333.60,482.00) scale(1.06,1)" x="0" y="0" font-size="11.5" text-anchor="start" fill="#0072bd" font-family='"Liberation Sans", sans-serif' stroke="#0072bd" stroke-width="0.18">0</text>
<line x1="328.90" y1="440.16" x2="326.50" y2="440.16" stroke="#4a9fd8" stroke-width="0.8" />
<text transform="translate(333.60,444.06) scale(1.06,1)" x="0" y="0" font-size="11.5" text-anchor="start" fill="#0072bd" font-family='"Liberation Sans", sans-serif' stroke="#0072bd" stroke-width="0.18">0.5</text>
<line x1="328.90" y1="402.22" x2="326.50" y2="402.22" stroke="#4a9fd8" stroke-width="0.8" />
<g transform="translate(333.60,406.12) scale(1.06,1)"><text x="0.000" y="0" font-size="11.5" text-anchor="start" fill="#0072bd" font-family='"Liberation Sans", sans-serif' stroke="#0072bd" stroke-width="0.18">&#x2007;</text><path transform="translate(0.000,0) scale(0.005615,-0.005615)" d="M505,0L505,1040L215,1040L215,1170C390,1180 490,1250 520,1409L700,1409L700,0Z" fill="#0072bd" stroke="#0072bd" stroke-width="32.1"/></g>
<line x1="328.90" y1="364.28" x2="326.50" y2="364.28" stroke="#4a9fd8" stroke-width="0.8" />
<g transform="translate(333.60,368.18) scale(1.06,1)"><text x="0.000" y="0" font-size="11.5" text-anchor="start" fill="#0072bd" font-family='"Liberation Sans", sans-serif' stroke="#0072bd" stroke-width="0.18">&#x2007;.5</text><path transform="translate(0.000,0) scale(0.005615,-0.005615)" d="M505,0L505,1040L215,1040L215,1170C390,1180 490,1250 520,1409L700,1409L700,0Z" fill="#0072bd" stroke="#0072bd" stroke-width="32.1"/></g>
<line x1="328.90" y1="326.34" x2="326.50" y2="326.34" stroke="#4a9fd8" stroke-width="0.8" />
<text transform="translate(333.60,330.24) scale(1.06,1)" x="0" y="0" font-size="11.5" text-anchor="start" fill="#0072bd" font-family='"Liberation Sans", sans-serif' stroke="#0072bd" stroke-width="0.18">2</text>
<line x1="328.90" y1="288.40" x2="326.50" y2="288.40" stroke="#4a9fd8" stroke-width="0.8" />
<text transform="translate(333.60,292.30) scale(1.06,1)" x="0" y="0" font-size="11.5" text-anchor="start" fill="#0072bd" font-family='"Liberation Sans", sans-serif' stroke="#0072bd" stroke-width="0.18">2.5</text>
<path d="M97.05,268.55L101.95,273.45M101.95,268.55L97.05,273.45" stroke="#a2142f" stroke-width="1.1" fill="none"/>
<g transform="translate(102.80,274.20) scale(1.0,1)"><text x="0.000" y="0" font-size="11.5" text-anchor="start" fill="#a2142f" font-family='"Liberation Sans", sans-serif' stroke="#a2142f" stroke-width="0.18">&#x2007;0</text><path transform="translate(0.000,0) scale(0.005615,-0.005615)" d="M505,0L505,1040L215,1040L215,1170C390,1180 490,1250 520,1409L700,1409L700,0Z" fill="#a2142f" stroke="#a2142f" stroke-width="32.1"/></g>
<text x="115.60" y="269.50" font-size="8.6" fill="#a2142f" font-family='"Liberation Sans", sans-serif' stroke="#a2142f" stroke-width="0.18">4</text>
<path d="M309.75,268.55L314.65,273.45M314.65,268.55L309.75,273.45" stroke="#0072bd" stroke-width="1.1" fill="none"/>
<g transform="translate(314.60,274.20) scale(1.0,1)"><text x="0.000" y="0" font-size="11.5" text-anchor="start" fill="#0072bd" font-family='"Liberation Sans", sans-serif' stroke="#0072bd" stroke-width="0.18">&#x2007;0</text><path transform="translate(0.000,0) scale(0.005615,-0.005615)" d="M505,0L505,1040L215,1040L215,1170C390,1180 490,1250 520,1409L700,1409L700,0Z" fill="#0072bd" stroke="#0072bd" stroke-width="32.1"/></g>
<text x="328.10" y="269.80" font-size="8.6" fill="#0072bd" font-family='"Liberation Sans", sans-serif' stroke="#0072bd" stroke-width="0.18">3</text>
<g transform="translate(69.40,378.00) rotate(-90)"><text x="-69.917" y="0" font-size="11.7" style="font-kerning:none" fill="#a2142f" font-family='"Liberation Sans", sans-serif' stroke="#a2142f" stroke-width="0.18">Coincidence counts in  5 s</text><path transform="translate(47.803,0) scale(0.005713,-0.005713)" d="M505,0L505,1040L215,1040L215,1170C390,1180 490,1250 520,1409L700,1409L700,0Z" fill="#a2142f" stroke="#a2142f" stroke-width="31.5"/></g>
<text transform="translate(366.8,378.6) rotate(-90)" x="0" y="0" font-size="12.1" text-anchor="middle" fill="#0072bd" font-family='"Liberation Sans", sans-serif' stroke="#0072bd" stroke-width="0.18">Detector counts</text>
<text x="204.50" y="502.30" font-size="13.50" font-style="italic" text-anchor="middle" fill="#1a1a1a" font-family='"Liberation Serif", serif' stroke="#1a1a1a" stroke-width="0.18">&#x3D5;</text>
<text x="211.70" y="502.30" font-size="12.50" font-style="italic" text-anchor="middle" fill="#1a1a1a" font-family='"Liberation Serif", serif' stroke="#1a1a1a" stroke-width="0.18">/</text>
<text x="218.50" y="502.30" font-size="11.80" font-style="italic" text-anchor="middle" fill="#1a1a1a" font-family='"Liberation Serif", serif' stroke="#1a1a1a" stroke-width="0.18">&#x3C0;</text>
<text x="59.6" y="267.8" font-size="16.5" font-weight="bold" fill="#000" font-family='"Liberation Sans", sans-serif' stroke="#000" stroke-width="0.18">c</text>
<line x1="107.62" y1="370.25" x2="107.62" y2="377.15" stroke="#0072bd" stroke-width="1.0"/>
<line x1="103.22" y1="370.25" x2="112.02" y2="370.25" stroke="#3b8fd0" stroke-width="1.0"/>
<line x1="103.22" y1="377.15" x2="112.02" y2="377.15" stroke="#3b8fd0" stroke-width="1.0"/>
<circle cx="107.62" cy="373.70" r="2.7" fill="#0072bd"/>
<line x1="122.38" y1="406.45" x2="122.38" y2="413.35" stroke="#0072bd" stroke-width="1.0"/>
<line x1="117.98" y1="406.45" x2="126.78" y2="406.45" stroke="#3b8fd0" stroke-width="1.0"/>
<line x1="117.98" y1="413.35" x2="126.78" y2="413.35" stroke="#3b8fd0" stroke-width="1.0"/>
<circle cx="122.38" cy="409.90" r="2.7" fill="#0072bd"/>
<line x1="137.45" y1="444.75" x2="137.45" y2="451.65" stroke="#0072bd" stroke-width="1.0"/>
<line x1="133.05" y1="444.75" x2="141.85" y2="444.75" stroke="#3b8fd0" stroke-width="1.0"/>
<line x1="133.05" y1="451.65" x2="141.85" y2="451.65" stroke="#3b8fd0" stroke-width="1.0"/>
<circle cx="137.45" cy="448.20" r="2.7" fill="#0072bd"/>
<line x1="152.00" y1="465.65" x2="152.00" y2="472.55" stroke="#0072bd" stroke-width="1.0"/>
<line x1="147.60" y1="465.65" x2="156.40" y2="465.65" stroke="#3b8fd0" stroke-width="1.0"/>
<line x1="147.60" y1="472.55" x2="156.40" y2="472.55" stroke="#3b8fd0" stroke-width="1.0"/>
<circle cx="152.00" cy="469.10" r="2.7" fill="#0072bd"/>
<line x1="167.08" y1="470.35" x2="167.08" y2="477.25" stroke="#0072bd" stroke-width="1.0"/>
<line x1="162.68" y1="470.35" x2="171.48" y2="470.35" stroke="#3b8fd0" stroke-width="1.0"/>
<line x1="162.68" y1="477.25" x2="171.48" y2="477.25" stroke="#3b8fd0" stroke-width="1.0"/>
<circle cx="167.08" cy="473.80" r="2.7" fill="#0072bd"/>
<line x1="181.73" y1="452.25" x2="181.73" y2="459.15" stroke="#0072bd" stroke-width="1.0"/>
<line x1="177.33" y1="452.25" x2="186.13" y2="452.25" stroke="#3b8fd0" stroke-width="1.0"/>
<line x1="177.33" y1="459.15" x2="186.13" y2="459.15" stroke="#3b8fd0" stroke-width="1.0"/>
<circle cx="181.73" cy="455.70" r="2.7" fill="#0072bd"/>
<line x1="196.81" y1="427.55" x2="196.81" y2="434.45" stroke="#0072bd" stroke-width="1.0"/>
<line x1="192.41" y1="427.55" x2="201.21" y2="427.55" stroke="#3b8fd0" stroke-width="1.0"/>
<line x1="192.41" y1="434.45" x2="201.21" y2="434.45" stroke="#3b8fd0" stroke-width="1.0"/>
<circle cx="196.81" cy="431.00" r="2.7" fill="#0072bd"/>
<line x1="211.57" y1="388.05" x2="211.57" y2="394.95" stroke="#0072bd" stroke-width="1.0"/>
<line x1="207.17" y1="388.05" x2="215.97" y2="388.05" stroke="#3b8fd0" stroke-width="1.0"/>
<line x1="207.17" y1="394.95" x2="215.97" y2="394.95" stroke="#3b8fd0" stroke-width="1.0"/>
<circle cx="211.57" cy="391.50" r="2.7" fill="#0072bd"/>
<line x1="226.43" y1="350.15" x2="226.43" y2="357.05" stroke="#0072bd" stroke-width="1.0"/>
<line x1="222.03" y1="350.15" x2="230.83" y2="350.15" stroke="#3b8fd0" stroke-width="1.0"/>
<line x1="222.03" y1="357.05" x2="230.83" y2="357.05" stroke="#3b8fd0" stroke-width="1.0"/>
<circle cx="226.43" cy="353.60" r="2.7" fill="#0072bd"/>
<line x1="241.51" y1="319.05" x2="241.51" y2="325.95" stroke="#0072bd" stroke-width="1.0"/>
<line x1="237.11" y1="319.05" x2="245.91" y2="319.05" stroke="#3b8fd0" stroke-width="1.0"/>
<line x1="237.11" y1="325.95" x2="245.91" y2="325.95" stroke="#3b8fd0" stroke-width="1.0"/>
<circle cx="241.51" cy="322.50" r="2.7" fill="#0072bd"/>
<line x1="250.43" y1="293.35" x2="250.43" y2="300.25" stroke="#0072bd" stroke-width="1.0"/>
<line x1="246.03" y1="293.35" x2="254.83" y2="293.35" stroke="#3b8fd0" stroke-width="1.0"/>
<line x1="246.03" y1="300.25" x2="254.83" y2="300.25" stroke="#3b8fd0" stroke-width="1.0"/>
<circle cx="250.43" cy="296.80" r="2.7" fill="#0072bd"/>
<line x1="256.38" y1="297.15" x2="256.38" y2="304.05" stroke="#0072bd" stroke-width="1.0"/>
<line x1="251.98" y1="297.15" x2="260.78" y2="297.15" stroke="#3b8fd0" stroke-width="1.0"/>
<line x1="251.98" y1="304.05" x2="260.78" y2="304.05" stroke="#3b8fd0" stroke-width="1.0"/>
<circle cx="256.38" cy="300.60" r="2.7" fill="#0072bd"/>
<line x1="262.32" y1="293.15" x2="262.32" y2="300.05" stroke="#0072bd" stroke-width="1.0"/>
<line x1="257.92" y1="293.15" x2="266.72" y2="293.15" stroke="#3b8fd0" stroke-width="1.0"/>
<line x1="257.92" y1="300.05" x2="266.72" y2="300.05" stroke="#3b8fd0" stroke-width="1.0"/>
<circle cx="262.32" cy="296.60" r="2.7" fill="#0072bd"/>
<line x1="271.14" y1="289.85" x2="271.14" y2="296.75" stroke="#0072bd" stroke-width="1.0"/>
<line x1="266.74" y1="289.85" x2="275.54" y2="289.85" stroke="#3b8fd0" stroke-width="1.0"/>
<line x1="266.74" y1="296.75" x2="275.54" y2="296.75" stroke="#3b8fd0" stroke-width="1.0"/>
<circle cx="271.14" cy="293.30" r="2.7" fill="#0072bd"/>
<line x1="286.11" y1="300.35" x2="286.11" y2="307.25" stroke="#0072bd" stroke-width="1.0"/>
<line x1="281.71" y1="300.35" x2="290.51" y2="300.35" stroke="#3b8fd0" stroke-width="1.0"/>
<line x1="281.71" y1="307.25" x2="290.51" y2="307.25" stroke="#3b8fd0" stroke-width="1.0"/>
<circle cx="286.11" cy="303.80" r="2.7" fill="#0072bd"/>
<line x1="300.87" y1="327.15" x2="300.87" y2="334.05" stroke="#0072bd" stroke-width="1.0"/>
<line x1="296.47" y1="327.15" x2="305.27" y2="327.15" stroke="#3b8fd0" stroke-width="1.0"/>
<line x1="296.47" y1="334.05" x2="305.27" y2="334.05" stroke="#3b8fd0" stroke-width="1.0"/>
<circle cx="300.87" cy="330.60" r="2.7" fill="#0072bd"/>
<line x1="309.68" y1="351.35" x2="309.68" y2="358.25" stroke="#0072bd" stroke-width="1.0"/>
<line x1="305.28" y1="351.35" x2="314.08" y2="351.35" stroke="#3b8fd0" stroke-width="1.0"/>
<line x1="305.28" y1="358.25" x2="314.08" y2="358.25" stroke="#3b8fd0" stroke-width="1.0"/>
<circle cx="309.68" cy="354.80" r="2.7" fill="#0072bd"/>
<line x1="315.73" y1="364.25" x2="315.73" y2="371.15" stroke="#0072bd" stroke-width="1.0"/>
<line x1="311.33" y1="364.25" x2="320.13" y2="364.25" stroke="#3b8fd0" stroke-width="1.0"/>
<line x1="311.33" y1="371.15" x2="320.13" y2="371.15" stroke="#3b8fd0" stroke-width="1.0"/>
<circle cx="315.73" cy="367.70" r="2.7" fill="#0072bd"/>
<line x1="107.62" y1="307.60" x2="107.62" y2="308.20" stroke="#a2142f" stroke-width="0.9"/>
<line x1="103.22" y1="307.60" x2="112.02" y2="307.60" stroke="#b8475f" stroke-width="0.9"/>
<line x1="103.22" y1="308.20" x2="112.02" y2="308.20" stroke="#b8475f" stroke-width="0.9"/>
<circle cx="107.62" cy="307.90" r="2.5" fill="#a2142f"/>
<line x1="122.38" y1="368.50" x2="122.38" y2="369.10" stroke="#a2142f" stroke-width="0.9"/>
<line x1="117.98" y1="368.50" x2="126.78" y2="368.50" stroke="#b8475f" stroke-width="0.9"/>
<line x1="117.98" y1="369.10" x2="126.78" y2="369.10" stroke="#b8475f" stroke-width="0.9"/>
<circle cx="122.38" cy="368.80" r="2.5" fill="#a2142f"/>
<line x1="137.45" y1="441.40" x2="137.45" y2="442.00" stroke="#a2142f" stroke-width="0.9"/>
<line x1="133.05" y1="441.40" x2="141.85" y2="441.40" stroke="#b8475f" stroke-width="0.9"/>
<line x1="133.05" y1="442.00" x2="141.85" y2="442.00" stroke="#b8475f" stroke-width="0.9"/>
<circle cx="137.45" cy="441.70" r="2.5" fill="#a2142f"/>
<line x1="152.00" y1="467.10" x2="152.00" y2="467.70" stroke="#a2142f" stroke-width="0.9"/>
<line x1="147.60" y1="467.10" x2="156.40" y2="467.10" stroke="#b8475f" stroke-width="0.9"/>
<line x1="147.60" y1="467.70" x2="156.40" y2="467.70" stroke="#b8475f" stroke-width="0.9"/>
<circle cx="152.00" cy="467.40" r="2.5" fill="#a2142f"/>
<line x1="167.08" y1="431.70" x2="167.08" y2="432.30" stroke="#a2142f" stroke-width="0.9"/>
<line x1="162.68" y1="431.70" x2="171.48" y2="431.70" stroke="#b8475f" stroke-width="0.9"/>
<line x1="162.68" y1="432.30" x2="171.48" y2="432.30" stroke="#b8475f" stroke-width="0.9"/>
<circle cx="167.08" cy="432.00" r="2.5" fill="#a2142f"/>
<line x1="181.73" y1="355.40" x2="181.73" y2="356.00" stroke="#a2142f" stroke-width="0.9"/>
<line x1="177.33" y1="355.40" x2="186.13" y2="355.40" stroke="#b8475f" stroke-width="0.9"/>
<line x1="177.33" y1="356.00" x2="186.13" y2="356.00" stroke="#b8475f" stroke-width="0.9"/>
<circle cx="181.73" cy="355.70" r="2.5" fill="#a2142f"/>
<line x1="196.81" y1="298.90" x2="196.81" y2="299.50" stroke="#a2142f" stroke-width="0.9"/>
<line x1="192.41" y1="298.90" x2="201.21" y2="298.90" stroke="#b8475f" stroke-width="0.9"/>
<line x1="192.41" y1="299.50" x2="201.21" y2="299.50" stroke="#b8475f" stroke-width="0.9"/>
<circle cx="196.81" cy="299.20" r="2.5" fill="#a2142f"/>
<line x1="211.57" y1="300.50" x2="211.57" y2="301.10" stroke="#a2142f" stroke-width="0.9"/>
<line x1="207.17" y1="300.50" x2="215.97" y2="300.50" stroke="#b8475f" stroke-width="0.9"/>
<line x1="207.17" y1="301.10" x2="215.97" y2="301.10" stroke="#b8475f" stroke-width="0.9"/>
<circle cx="211.57" cy="300.80" r="2.5" fill="#a2142f"/>
<line x1="226.43" y1="358.30" x2="226.43" y2="358.90" stroke="#a2142f" stroke-width="0.9"/>
<line x1="222.03" y1="358.30" x2="230.83" y2="358.30" stroke="#b8475f" stroke-width="0.9"/>
<line x1="222.03" y1="358.90" x2="230.83" y2="358.90" stroke="#b8475f" stroke-width="0.9"/>
<circle cx="226.43" cy="358.60" r="2.5" fill="#a2142f"/>
<line x1="241.51" y1="435.80" x2="241.51" y2="436.40" stroke="#a2142f" stroke-width="0.9"/>
<line x1="237.11" y1="435.80" x2="245.91" y2="435.80" stroke="#b8475f" stroke-width="0.9"/>
<line x1="237.11" y1="436.40" x2="245.91" y2="436.40" stroke="#b8475f" stroke-width="0.9"/>
<circle cx="241.51" cy="436.10" r="2.5" fill="#a2142f"/>
<line x1="250.43" y1="465.30" x2="250.43" y2="465.90" stroke="#a2142f" stroke-width="0.9"/>
<line x1="246.03" y1="465.30" x2="254.83" y2="465.30" stroke="#b8475f" stroke-width="0.9"/>
<line x1="246.03" y1="465.90" x2="254.83" y2="465.90" stroke="#b8475f" stroke-width="0.9"/>
<circle cx="250.43" cy="465.60" r="2.5" fill="#a2142f"/>
<line x1="256.38" y1="467.00" x2="256.38" y2="467.60" stroke="#a2142f" stroke-width="0.9"/>
<line x1="251.98" y1="467.00" x2="260.78" y2="467.00" stroke="#b8475f" stroke-width="0.9"/>
<line x1="251.98" y1="467.60" x2="260.78" y2="467.60" stroke="#b8475f" stroke-width="0.9"/>
<circle cx="256.38" cy="467.30" r="2.5" fill="#a2142f"/>
<line x1="262.32" y1="461.80" x2="262.32" y2="462.40" stroke="#a2142f" stroke-width="0.9"/>
<line x1="257.92" y1="461.80" x2="266.72" y2="461.80" stroke="#b8475f" stroke-width="0.9"/>
<line x1="257.92" y1="462.40" x2="266.72" y2="462.40" stroke="#b8475f" stroke-width="0.9"/>
<circle cx="262.32" cy="462.10" r="2.5" fill="#a2142f"/>
<line x1="271.14" y1="446.50" x2="271.14" y2="447.10" stroke="#a2142f" stroke-width="0.9"/>
<line x1="266.74" y1="446.50" x2="275.54" y2="446.50" stroke="#b8475f" stroke-width="0.9"/>
<line x1="266.74" y1="447.10" x2="275.54" y2="447.10" stroke="#b8475f" stroke-width="0.9"/>
<circle cx="271.14" cy="446.80" r="2.5" fill="#a2142f"/>
<line x1="286.11" y1="368.80" x2="286.11" y2="369.40" stroke="#a2142f" stroke-width="0.9"/>
<line x1="281.71" y1="368.80" x2="290.51" y2="368.80" stroke="#b8475f" stroke-width="0.9"/>
<line x1="281.71" y1="369.40" x2="290.51" y2="369.40" stroke="#b8475f" stroke-width="0.9"/>
<circle cx="286.11" cy="369.10" r="2.5" fill="#a2142f"/>
<line x1="300.87" y1="308.90" x2="300.87" y2="309.50" stroke="#a2142f" stroke-width="0.9"/>
<line x1="296.47" y1="308.90" x2="305.27" y2="308.90" stroke="#b8475f" stroke-width="0.9"/>
<line x1="296.47" y1="309.50" x2="305.27" y2="309.50" stroke="#b8475f" stroke-width="0.9"/>
<circle cx="300.87" cy="309.20" r="2.5" fill="#a2142f"/>
<line x1="309.68" y1="295.80" x2="309.68" y2="296.40" stroke="#a2142f" stroke-width="0.9"/>
<line x1="305.28" y1="295.80" x2="314.08" y2="295.80" stroke="#b8475f" stroke-width="0.9"/>
<line x1="305.28" y1="296.40" x2="314.08" y2="296.40" stroke="#b8475f" stroke-width="0.9"/>
<circle cx="309.68" cy="296.10" r="2.5" fill="#a2142f"/>
<line x1="315.73" y1="297.90" x2="315.73" y2="298.50" stroke="#a2142f" stroke-width="0.9"/>
<line x1="311.33" y1="297.90" x2="320.13" y2="297.90" stroke="#b8475f" stroke-width="0.9"/>
<line x1="311.33" y1="298.50" x2="320.13" y2="298.50" stroke="#b8475f" stroke-width="0.9"/>
<circle cx="315.73" cy="298.20" r="2.5" fill="#a2142f"/>
<rect x="114.6" y="288.6" width="74" height="27.2" fill="#fff" stroke="#777" stroke-width="0.9"/>
<line x1="121.3" y1="290.40000000000003" x2="121.3" y2="300.8" stroke="#a2142f" stroke-width="0.8"/>
<line x1="119.7" y1="290.40000000000003" x2="122.9" y2="290.40000000000003" stroke="#a2142f" stroke-width="0.8"/>
<line x1="119.7" y1="300.8" x2="122.9" y2="300.8" stroke="#a2142f" stroke-width="0.8"/>
<circle cx="121.3" cy="295.6" r="1.9" fill="#a2142f"/>
<line x1="121.3" y1="303.3" x2="121.3" y2="313.7" stroke="#0072bd" stroke-width="0.8"/>
<line x1="119.7" y1="303.3" x2="122.9" y2="303.3" stroke="#0072bd" stroke-width="0.8"/>
<line x1="119.7" y1="313.7" x2="122.9" y2="313.7" stroke="#0072bd" stroke-width="0.8"/>
<circle cx="121.3" cy="308.5" r="1.9" fill="#0072bd"/>
<text x="128.00" y="299.50" font-size="10" text-anchor="start" fill="#1a1a1a" font-weight="normal" font-style="normal" font-family='"Liberation Sans", sans-serif'  stroke="#1a1a1a" stroke-width="0.18">Two photons</text>
<text x="128.00" y="312.60" font-size="10" text-anchor="start" fill="#1a1a1a" font-weight="normal" font-style="normal" font-family='"Liberation Sans", sans-serif'  stroke="#1a1a1a" stroke-width="0.18">CW laser</text>
<rect x="432.8" y="277.4" width="237.59999999999997" height="200.40000000000003" fill="none" stroke="#8a8a8a" stroke-width="1"/>
<line x1="432.80" y1="477.80" x2="432.80" y2="475.40" stroke="#333" stroke-width="0.8" />
<line x1="432.80" y1="277.40" x2="432.80" y2="279.80" stroke="#333" stroke-width="0.8" />
<text transform="translate(432.80,490.80) scale(1.06,1)" x="0" y="0" font-size="11.5" text-anchor="middle" fill="#1a1a1a" font-family='"Liberation Sans", sans-serif' stroke="#1a1a1a" stroke-width="0.18">0</text>
<line x1="486.80" y1="477.80" x2="486.80" y2="475.40" stroke="#333" stroke-width="0.8" />
<line x1="486.80" y1="277.40" x2="486.80" y2="279.80" stroke="#333" stroke-width="0.8" />
<text transform="translate(486.80,490.80) scale(1.06,1)" x="0" y="0" font-size="11.5" text-anchor="middle" fill="#1a1a1a" font-family='"Liberation Sans", sans-serif' stroke="#1a1a1a" stroke-width="0.18">0.5</text>
<line x1="540.80" y1="477.80" x2="540.80" y2="475.40" stroke="#333" stroke-width="0.8" />
<line x1="540.80" y1="277.40" x2="540.80" y2="279.80" stroke="#333" stroke-width="0.8" />
<g transform="translate(540.80,490.80) scale(1.06,1)"><text x="-3.198" y="0" font-size="11.5" text-anchor="start" fill="#1a1a1a" font-family='"Liberation Sans", sans-serif' stroke="#1a1a1a" stroke-width="0.18">&#x2007;</text><path transform="translate(-3.198,0) scale(0.005615,-0.005615)" d="M505,0L505,1040L215,1040L215,1170C390,1180 490,1250 520,1409L700,1409L700,0Z" fill="#1a1a1a" stroke="#1a1a1a" stroke-width="32.1"/></g>
<line x1="594.80" y1="477.80" x2="594.80" y2="475.40" stroke="#333" stroke-width="0.8" />
<line x1="594.80" y1="277.40" x2="594.80" y2="279.80" stroke="#333" stroke-width="0.8" />
<g transform="translate(594.80,490.80) scale(1.06,1)"><text x="-7.993" y="0" font-size="11.5" text-anchor="start" fill="#1a1a1a" font-family='"Liberation Sans", sans-serif' stroke="#1a1a1a" stroke-width="0.18">&#x2007;.5</text><path transform="translate(-7.993,0) scale(0.005615,-0.005615)" d="M505,0L505,1040L215,1040L215,1170C390,1180 490,1250 520,1409L700,1409L700,0Z" fill="#1a1a1a" stroke="#1a1a1a" stroke-width="32.1"/></g>
<line x1="648.80" y1="477.80" x2="648.80" y2="475.40" stroke="#333" stroke-width="0.8" />
<line x1="648.80" y1="277.40" x2="648.80" y2="279.80" stroke="#333" stroke-width="0.8" />
<text transform="translate(648.80,490.80) scale(1.06,1)" x="0" y="0" font-size="11.5" text-anchor="middle" fill="#1a1a1a" font-family='"Liberation Sans", sans-serif' stroke="#1a1a1a" stroke-width="0.18">2</text>
<line x1="432.80" y1="477.80" x2="435.20" y2="477.80" stroke="#333" stroke-width="0.8" />
<line x1="670.40" y1="477.80" x2="668.00" y2="477.80" stroke="#333" stroke-width="0.8" />
<text transform="translate(428.00,481.70) scale(1.06,1)" x="0" y="0" font-size="11.5" text-anchor="end" fill="#1a1a1a" font-family='"Liberation Sans", sans-serif' stroke="#1a1a1a" stroke-width="0.18">0</text>
<line x1="432.80" y1="444.40" x2="435.20" y2="444.40" stroke="#333" stroke-width="0.8" />
<line x1="670.40" y1="444.40" x2="668.00" y2="444.40" stroke="#333" stroke-width="0.8" />
<g transform="translate(428.00,448.30) scale(1.06,1)"><text x="-6.396" y="0" font-size="11.5" text-anchor="start" fill="#1a1a1a" font-family='"Liberation Sans", sans-serif' stroke="#1a1a1a" stroke-width="0.18">&#x2007;</text><path transform="translate(-6.396,0) scale(0.005615,-0.005615)" d="M505,0L505,1040L215,1040L215,1170C390,1180 490,1250 520,1409L700,1409L700,0Z" fill="#1a1a1a" stroke="#1a1a1a" stroke-width="32.1"/></g>
<line x1="432.80" y1="411.00" x2="435.20" y2="411.00" stroke="#333" stroke-width="0.8" />
<line x1="670.40" y1="411.00" x2="668.00" y2="411.00" stroke="#333" stroke-width="0.8" />
<text transform="translate(428.00,414.90) scale(1.06,1)" x="0" y="0" font-size="11.5" text-anchor="end" fill="#1a1a1a" font-family='"Liberation Sans", sans-serif' stroke="#1a1a1a" stroke-width="0.18">2</text>
<line x1="432.80" y1="377.60" x2="435.20" y2="377.60" stroke="#333" stroke-width="0.8" />
<line x1="670.40" y1="377.60" x2="668.00" y2="377.60" stroke="#333" stroke-width="0.8" />
<text transform="translate(428.00,381.50) scale(1.06,1)" x="0" y="0" font-size="11.5" text-anchor="end" fill="#1a1a1a" font-family='"Liberation Sans", sans-serif' stroke="#1a1a1a" stroke-width="0.18">3</text>
<line x1="432.80" y1="344.20" x2="435.20" y2="344.20" stroke="#333" stroke-width="0.8" />
<line x1="670.40" y1="344.20" x2="668.00" y2="344.20" stroke="#333" stroke-width="0.8" />
<text transform="translate(428.00,348.10) scale(1.06,1)" x="0" y="0" font-size="11.5" text-anchor="end" fill="#1a1a1a" font-family='"Liberation Sans", sans-serif' stroke="#1a1a1a" stroke-width="0.18">4</text>
<line x1="432.80" y1="310.80" x2="435.20" y2="310.80" stroke="#333" stroke-width="0.8" />
<line x1="670.40" y1="310.80" x2="668.00" y2="310.80" stroke="#333" stroke-width="0.8" />
<text transform="translate(428.00,314.70) scale(1.06,1)" x="0" y="0" font-size="11.5" text-anchor="end" fill="#1a1a1a" font-family='"Liberation Sans", sans-serif' stroke="#1a1a1a" stroke-width="0.18">5</text>
<line x1="432.80" y1="277.40" x2="435.20" y2="277.40" stroke="#333" stroke-width="0.8" />
<line x1="670.40" y1="277.40" x2="668.00" y2="277.40" stroke="#333" stroke-width="0.8" />
<text transform="translate(428.00,281.30) scale(1.06,1)" x="0" y="0" font-size="11.5" text-anchor="end" fill="#1a1a1a" font-family='"Liberation Sans", sans-serif' stroke="#1a1a1a" stroke-width="0.18">6</text>
<path d="M436.75,268.55L441.65,273.45M441.65,268.55L436.75,273.45" stroke="#1a1a1a" stroke-width="1.1" fill="none"/>
<g transform="translate(442.50,274.20) scale(1.0,1)"><text x="0.000" y="0" font-size="11.5" text-anchor="start" fill="#1a1a1a" font-family='"Liberation Sans", sans-serif' stroke="#1a1a1a" stroke-width="0.18">&#x2007;0</text><path transform="translate(0.000,0) scale(0.005615,-0.005615)" d="M505,0L505,1040L215,1040L215,1170C390,1180 490,1250 520,1409L700,1409L700,0Z" fill="#1a1a1a" stroke="#1a1a1a" stroke-width="32.1"/></g>
<text x="455.60" y="269.50" font-size="8.6" fill="#1a1a1a" font-family='"Liberation Sans", sans-serif' stroke="#1a1a1a" stroke-width="0.18">3</text>
<text transform="translate(413.2,378) rotate(-90)" x="0" y="0" font-size="11.7" text-anchor="middle" fill="#1a1a1a" font-family='"Liberation Sans", sans-serif' stroke="#1a1a1a" stroke-width="0.18">Single detector counts in 5 ms</text>
<text x="545.30" y="507.90" font-size="11.61" font-style="italic" text-anchor="middle" fill="#1a1a1a" font-family='"Liberation Serif", serif' stroke="#1a1a1a" stroke-width="0.18">&#x3D5;</text>
<text x="551.30" y="507.90" font-size="10.75" font-style="italic" text-anchor="middle" fill="#1a1a1a" font-family='"Liberation Serif", serif' stroke="#1a1a1a" stroke-width="0.18">/</text>
<text x="557.20" y="507.90" font-size="10.15" font-style="italic" text-anchor="middle" fill="#1a1a1a" font-family='"Liberation Serif", serif' stroke="#1a1a1a" stroke-width="0.18">&#x3C0;</text>
<text x="383.0" y="267.8" font-size="16.5" font-weight="bold" fill="#000" font-family='"Liberation Sans", sans-serif' stroke="#000" stroke-width="0.18">d</text>
<line x1="444.90" y1="296.20" x2="444.90" y2="302.60" stroke="#a2142f" stroke-width="1.0"/>
<line x1="440.50" y1="296.20" x2="449.30" y2="296.20" stroke="#b8475f" stroke-width="1.0"/>
<line x1="440.50" y1="302.60" x2="449.30" y2="302.60" stroke="#b8475f" stroke-width="1.0"/>
<circle cx="444.90" cy="299.40" r="2.55" fill="#a2142f"/>
<line x1="459.91" y1="298.50" x2="459.91" y2="304.90" stroke="#a2142f" stroke-width="1.0"/>
<line x1="455.51" y1="298.50" x2="464.31" y2="298.50" stroke="#b8475f" stroke-width="1.0"/>
<line x1="455.51" y1="304.90" x2="464.31" y2="304.90" stroke="#b8475f" stroke-width="1.0"/>
<circle cx="459.91" cy="301.70" r="2.55" fill="#a2142f"/>
<line x1="475.46" y1="299.00" x2="475.46" y2="305.40" stroke="#a2142f" stroke-width="1.0"/>
<line x1="471.06" y1="299.00" x2="479.86" y2="299.00" stroke="#b8475f" stroke-width="1.0"/>
<line x1="471.06" y1="305.40" x2="479.86" y2="305.40" stroke="#b8475f" stroke-width="1.0"/>
<circle cx="475.46" cy="302.20" r="2.55" fill="#a2142f"/>
<line x1="490.36" y1="301.90" x2="490.36" y2="308.30" stroke="#a2142f" stroke-width="1.0"/>
<line x1="485.96" y1="301.90" x2="494.76" y2="301.90" stroke="#b8475f" stroke-width="1.0"/>
<line x1="485.96" y1="308.30" x2="494.76" y2="308.30" stroke="#b8475f" stroke-width="1.0"/>
<circle cx="490.36" cy="305.10" r="2.55" fill="#a2142f"/>
<line x1="505.48" y1="303.30" x2="505.48" y2="309.70" stroke="#a2142f" stroke-width="1.0"/>
<line x1="501.08" y1="303.30" x2="509.88" y2="303.30" stroke="#b8475f" stroke-width="1.0"/>
<line x1="501.08" y1="309.70" x2="509.88" y2="309.70" stroke="#b8475f" stroke-width="1.0"/>
<circle cx="505.48" cy="306.50" r="2.55" fill="#a2142f"/>
<line x1="520.50" y1="290.50" x2="520.50" y2="296.90" stroke="#a2142f" stroke-width="1.0"/>
<line x1="516.10" y1="290.50" x2="524.90" y2="290.50" stroke="#b8475f" stroke-width="1.0"/>
<line x1="516.10" y1="296.90" x2="524.90" y2="296.90" stroke="#b8475f" stroke-width="1.0"/>
<circle cx="520.50" cy="293.70" r="2.55" fill="#a2142f"/>
<line x1="535.72" y1="303.10" x2="535.72" y2="309.50" stroke="#a2142f" stroke-width="1.0"/>
<line x1="531.32" y1="303.10" x2="540.12" y2="303.10" stroke="#b8475f" stroke-width="1.0"/>
<line x1="531.32" y1="309.50" x2="540.12" y2="309.50" stroke="#b8475f" stroke-width="1.0"/>
<circle cx="535.72" cy="306.30" r="2.55" fill="#a2142f"/>
<line x1="550.84" y1="298.20" x2="550.84" y2="304.60" stroke="#a2142f" stroke-width="1.0"/>
<line x1="546.44" y1="298.20" x2="555.24" y2="298.20" stroke="#b8475f" stroke-width="1.0"/>
<line x1="546.44" y1="304.60" x2="555.24" y2="304.60" stroke="#b8475f" stroke-width="1.0"/>
<circle cx="550.84" cy="301.40" r="2.55" fill="#a2142f"/>
<line x1="565.86" y1="303.60" x2="565.86" y2="310.00" stroke="#a2142f" stroke-width="1.0"/>
<line x1="561.46" y1="303.60" x2="570.26" y2="303.60" stroke="#b8475f" stroke-width="1.0"/>
<line x1="561.46" y1="310.00" x2="570.26" y2="310.00" stroke="#b8475f" stroke-width="1.0"/>
<circle cx="565.86" cy="306.80" r="2.55" fill="#a2142f"/>
<line x1="581.19" y1="302.90" x2="581.19" y2="309.30" stroke="#a2142f" stroke-width="1.0"/>
<line x1="576.79" y1="302.90" x2="585.59" y2="302.90" stroke="#b8475f" stroke-width="1.0"/>
<line x1="576.79" y1="309.30" x2="585.59" y2="309.30" stroke="#b8475f" stroke-width="1.0"/>
<circle cx="581.19" cy="306.10" r="2.55" fill="#a2142f"/>
<line x1="590.05" y1="294.50" x2="590.05" y2="300.90" stroke="#a2142f" stroke-width="1.0"/>
<line x1="585.65" y1="294.50" x2="594.45" y2="294.50" stroke="#b8475f" stroke-width="1.0"/>
<line x1="585.65" y1="300.90" x2="594.45" y2="300.90" stroke="#b8475f" stroke-width="1.0"/>
<circle cx="590.05" cy="297.70" r="2.55" fill="#a2142f"/>
<line x1="596.42" y1="295.70" x2="596.42" y2="302.10" stroke="#a2142f" stroke-width="1.0"/>
<line x1="592.02" y1="295.70" x2="600.82" y2="295.70" stroke="#b8475f" stroke-width="1.0"/>
<line x1="592.02" y1="302.10" x2="600.82" y2="302.10" stroke="#b8475f" stroke-width="1.0"/>
<circle cx="596.42" cy="298.90" r="2.55" fill="#a2142f"/>
<line x1="602.36" y1="292.30" x2="602.36" y2="298.70" stroke="#a2142f" stroke-width="1.0"/>
<line x1="597.96" y1="292.30" x2="606.76" y2="292.30" stroke="#b8475f" stroke-width="1.0"/>
<line x1="597.96" y1="298.70" x2="606.76" y2="298.70" stroke="#b8475f" stroke-width="1.0"/>
<circle cx="602.36" cy="295.50" r="2.55" fill="#a2142f"/>
<line x1="611.54" y1="298.60" x2="611.54" y2="305.00" stroke="#a2142f" stroke-width="1.0"/>
<line x1="607.14" y1="298.60" x2="615.94" y2="298.60" stroke="#b8475f" stroke-width="1.0"/>
<line x1="607.14" y1="305.00" x2="615.94" y2="305.00" stroke="#b8475f" stroke-width="1.0"/>
<circle cx="611.54" cy="301.80" r="2.55" fill="#a2142f"/>
<line x1="626.44" y1="296.20" x2="626.44" y2="302.60" stroke="#a2142f" stroke-width="1.0"/>
<line x1="622.04" y1="296.20" x2="630.84" y2="296.20" stroke="#b8475f" stroke-width="1.0"/>
<line x1="622.04" y1="302.60" x2="630.84" y2="302.60" stroke="#b8475f" stroke-width="1.0"/>
<circle cx="626.44" cy="299.40" r="2.55" fill="#a2142f"/>
<line x1="641.35" y1="299.00" x2="641.35" y2="305.40" stroke="#a2142f" stroke-width="1.0"/>
<line x1="636.95" y1="299.00" x2="645.75" y2="299.00" stroke="#b8475f" stroke-width="1.0"/>
<line x1="636.95" y1="305.40" x2="645.75" y2="305.40" stroke="#b8475f" stroke-width="1.0"/>
<circle cx="641.35" cy="302.20" r="2.55" fill="#a2142f"/>
<line x1="650.64" y1="296.20" x2="650.64" y2="302.60" stroke="#a2142f" stroke-width="1.0"/>
<line x1="646.24" y1="296.20" x2="655.04" y2="296.20" stroke="#b8475f" stroke-width="1.0"/>
<line x1="646.24" y1="302.60" x2="655.04" y2="302.60" stroke="#b8475f" stroke-width="1.0"/>
<circle cx="650.64" cy="299.40" r="2.55" fill="#a2142f"/>
<line x1="656.79" y1="303.60" x2="656.79" y2="310.00" stroke="#a2142f" stroke-width="1.0"/>
<line x1="652.39" y1="303.60" x2="661.19" y2="303.60" stroke="#b8475f" stroke-width="1.0"/>
<line x1="652.39" y1="310.00" x2="661.19" y2="310.00" stroke="#b8475f" stroke-width="1.0"/>
<circle cx="656.79" cy="306.80" r="2.55" fill="#a2142f"/>
<rect x="589.2" y="449.2" width="76.2" height="16.4" fill="#fff" stroke="#777" stroke-width="0.9"/>
<line x1="595" y1="452.3" x2="595" y2="462.3" stroke="#a2142f" stroke-width="0.8"/>
<line x1="593.4" y1="452.3" x2="596.6" y2="452.3" stroke="#a2142f" stroke-width="0.8"/>
<line x1="593.4" y1="462.3" x2="596.6" y2="462.3" stroke="#a2142f" stroke-width="0.8"/>
<circle cx="595" cy="457.3" r="1.9" fill="#a2142f"/>
<text x="600.80" y="461.00" font-size="10" text-anchor="start" fill="#1a1a1a" font-weight="normal" font-style="normal" font-family='"Liberation Sans", sans-serif'  stroke="#1a1a1a" stroke-width="0.18">Single photon</text>
</svg></body></html>
